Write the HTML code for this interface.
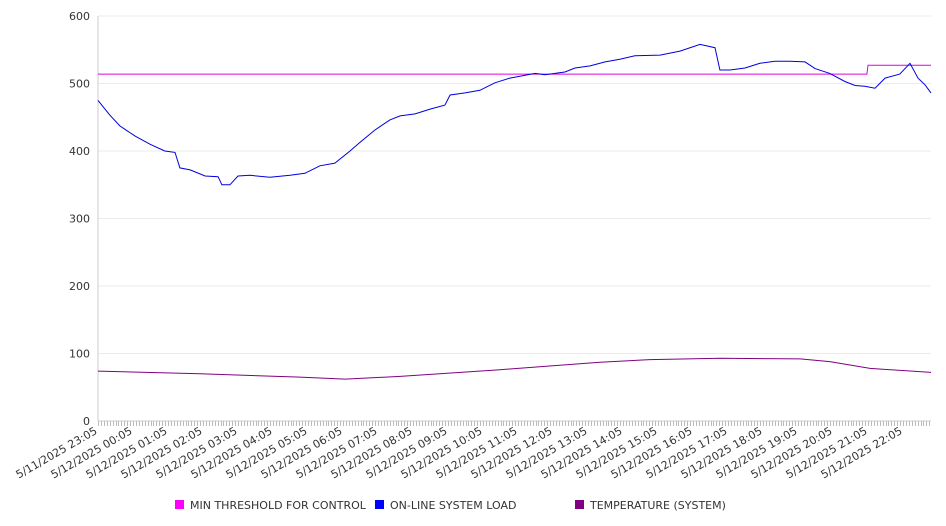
<!DOCTYPE html>
<html><head><meta charset="utf-8"><style>
html,body{margin:0;padding:0;background:#fff;}
svg{display:block;font-family:"DejaVu Sans","Liberation Sans",sans-serif;}
</style></head><body>
<svg id="chart" width="946" height="526" xmlns="http://www.w3.org/2000/svg"></svg>
<script>
// hours since 5/11/2025 23:05
const loadHours = [0,0.34,0.63,1.06,1.49,1.91,2.2,2.34,2.63,3.06,3.43,3.54,3.77,4.0,4.34,4.91,5.49,5.91,6.34,6.77,7.2,7.49,7.91,8.34,8.63,9.06,9.49,9.91,10.06,10.49,10.91,11.34,11.77,12.49,12.77,13.34,13.63,14.06,14.49,14.91,15.34,16.06,16.63,17.2,17.63,17.77,18.06,18.49,18.91,19.34,19.77,20.2,20.49,20.91,21.34,21.63,21.91,22.2,22.49,22.91,23.2,23.43,23.63,23.8];
const loadValues = [475,453,437,422,410,400,398,375,372,363,362,350,350,363,364,361,364,367,378,382,400,413,431,446,452,455,462,468,483,486,490,501,508,515,513,517,523,526,532,536,541,542,548,558,553,520,520,523,530,533,533,532,522,515,503,497,496,493,508,514,530,508,498,486];
const thrHours = [0,21.97,22.0,23.8];
const thrValues = [514,514,527,527];
const tempHours = [0,2.91,5.77,7.06,8.63,11.49,14.34,15.77,17.77,20.06,20.91,22.06,23.8];
const tempValues = [74,70,65,62,66,76,87,91,93,92,88,78,72];
const yTicks = [0,100,200,300,400,500,600];
const xLabels = ["5/11/2025 23:05","5/12/2025 00:05","5/12/2025 01:05","5/12/2025 02:05","5/12/2025 03:05","5/12/2025 04:05","5/12/2025 05:05","5/12/2025 06:05","5/12/2025 07:05","5/12/2025 08:05","5/12/2025 09:05","5/12/2025 10:05","5/12/2025 11:05","5/12/2025 12:05","5/12/2025 13:05","5/12/2025 14:05","5/12/2025 15:05","5/12/2025 16:05","5/12/2025 17:05","5/12/2025 18:05","5/12/2025 19:05","5/12/2025 20:05","5/12/2025 21:05","5/12/2025 22:05"];

const X0=98, X1=931, Y0=421, Y1=16, HMAX=23.8, VMAX=600;
const xs = h => X0 + h*(X1-X0)/HMAX;
const ys = v => Y0 - v*(Y0-Y1)/VMAX;
const svg = document.getElementById('chart');
const NS='http://www.w3.org/2000/svg';
function mk(tag, attrs, parent){const e=document.createElementNS(NS,tag);for(const k in attrs)e.setAttribute(k,attrs[k]);(parent||svg).appendChild(e);return e;}

yTicks.forEach(v=>{
  const g=mk('line',{x1:X0,x2:X1,y1:ys(v),y2:ys(v),stroke:v===0?'#ccc':'#ebebeb','stroke-width':1});
  
  
  const t=mk('text',{x:90,y:ys(v)+4,'text-anchor':'end','font-size':11,fill:'#333'});
  t.textContent=v;
  
  
});
const ax=mk('line',{x1:X0,x2:X0,y1:Y1,y2:Y0,stroke:'#ccc'});


const tg=mk('g',{stroke:'#bbb','stroke-width':1});


for(let m=0;m<=HMAX*60;m+=5){const x=Math.round(xs(m/60))+0.5;mk('line',{x1:x,x2:x,y1:Y0,y2:Y0+5},tg);}
xLabels.forEach((s,i)=>{
  const x=xs(i), y=Y0+12;
  const t=mk('text',{x:x,y:y,'text-anchor':'end','font-size':11,fill:'#333',transform:`rotate(-30 ${x} ${y})`});
  t.textContent=s;
  
  
});
function line(hs,vs,color,name){
  const d=hs.map((h,i)=>(i?'L':'M')+xs(h).toFixed(1)+' '+ys(vs[i]).toFixed(1)).join(' ');
  const p=mk('path',{d:d,fill:'none',stroke:color,'stroke-width':1});
  
  
}
line(thrHours,thrValues,'#e000e0','threshold-line');
line(tempHours,tempValues,'#800080','temperature-line');
line(loadHours,loadValues,'#0000e0','load-line');

const legend=[['#ff00ff','MIN THRESHOLD FOR CONTROL',175],['#0000ff','ON-LINE SYSTEM LOAD',375],['#800080','TEMPERATURE (SYSTEM)',575]];
legend.forEach(l=>{
  const g=mk('g',{});
  
  
  mk('rect',{x:l[2],y:500,width:9,height:9,fill:l[0]},g);
  const t=mk('text',{x:l[2]+15,y:509,'font-size':11,fill:'#333'},g);
  t.textContent=l[1];
});
</script>
</body></html>
